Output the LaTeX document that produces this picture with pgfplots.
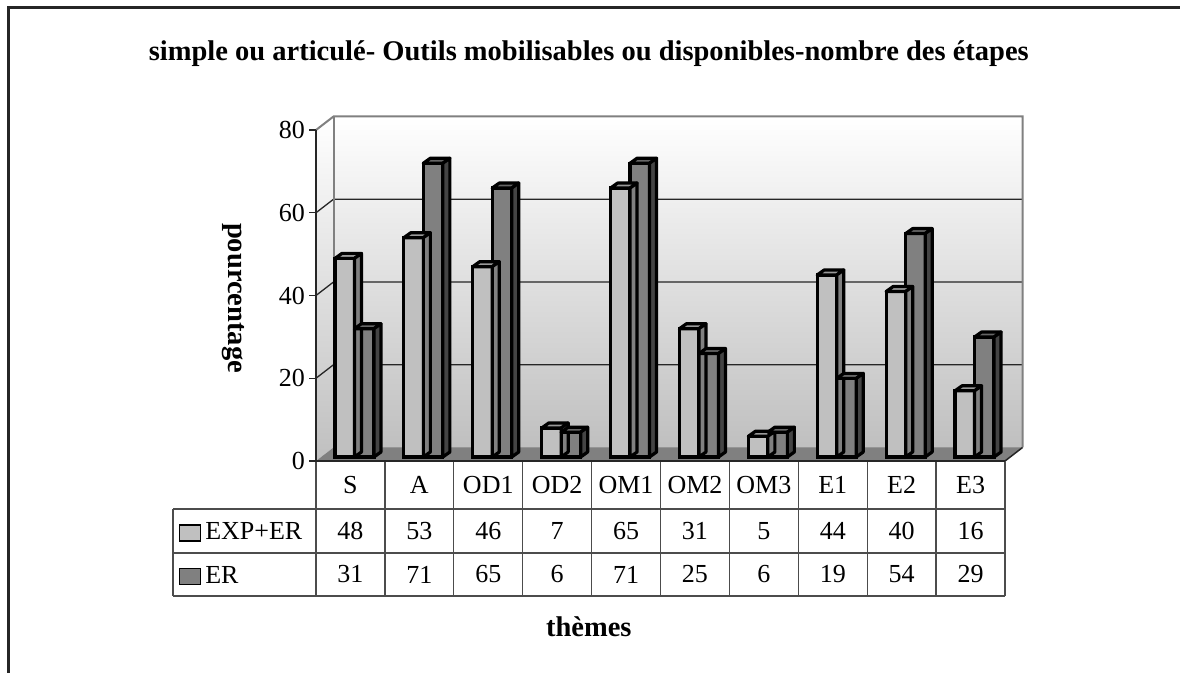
\documentclass[border=0pt]{standalone}
\usepackage{fontspec}
\setmainfont{Liberation Serif}
\usepackage{pgfplots}
\usepackage{pgfplotstable}
\pgfplotsset{compat=1.18}

\definecolor{lightfront}{HTML}{C0C0C0}
\definecolor{lighttop}{HTML}{999999}
\definecolor{lightside}{HTML}{808080}
\definecolor{darkfront}{HTML}{808080}
\definecolor{darktop}{HTML}{666666}
\definecolor{darkside}{HTML}{444444}
\definecolor{wallline}{HTML}{808080}
\definecolor{floorgray}{HTML}{808080}

\pgfdeclareplotmark{nothing}{}

\pgfplotstableread{
x cat exp er
0 S   48 31
1 A   53 71
2 OD1 46 65
3 OD2 7  6
4 OM1 65 71
5 OM2 31 25
6 OM3 5  6
7 E1  44 19
8 E2  40 54
9 E3  16 29
}\themes

\newcommand\tabfont{\fontsize{26bp}{30bp}\selectfont}
\newcommand\labfont{\fontsize{28.5bp}{32bp}\selectfont\bfseries}

% top and right faces of a bar, front face from #1 to #2 (bp from the category centre)
\newcommand\barfaces[4]{%
  \pgfmathsetlengthmacro\hh{\ry*4.1375bp}%
  \pgfmathsetlengthmacro\ww{(#2-#1)*1bp}%
  \filldraw[fill=#3, draw=black, line width=3.2bp, line join=round]
    (#1bp,4bp) -- ++(\ww,0pt) -- ++(7bp,5bp) -- ++(-\ww,0pt) -- cycle;
  \filldraw[fill=#4, draw=black, line width=3.2bp, line join=round]
    (#2bp,4bp) -- ++(7bp,5bp) -- ++(0pt,-\hh) -- ++(-7bp,-5bp) -- cycle;
}

\begin{document}
\begin{tikzpicture}
\path[use as bounding box] (0,0) rectangle (1180bp,673bp);
\draw[line width=2.5bp, black!85] (8.5bp,0) -- (8.5bp,665.5bp) -- (1180bp,665.5bp);
\begin{axis}[
  at={(316bp,212bp)}, anchor=south west,
  x=68.9bp, y=4.1375bp,
  xmin=-0.5, xmax=9.5, ymin=0, ymax=80,
  clip=false, axis on top,
  axis lines*=left,
  axis line style={black!85, line width=1.5bp},
  xtick=\empty,
  ytick={0,20,40,60,80},
  tick align=outside, major tick length=7bp,
  tick style={black!85, line width=1.3bp},
  tick label style={font=\tabfont},
  yticklabel={\pgfmathprintnumber[assume math mode=true]{\tick}},
  yticklabel style={font=\tabfont, inner sep=4bp},
  title={simple ou articulé- Outils mobilisables ou disponibles-nombre des étapes},
  xlabel={thèmes},
  ylabel={pourcentage},
  every axis title/.style={at={(axis description cs:0.396,1.23)}, anchor=center, font=\labfont},
  every axis x label/.style={at={(axis description cs:0.396,-0.5015)}, anchor=center, font=\labfont},
  every axis y label/.style={at={(axis description cs:-0.1205,0.4924)}, anchor=center, rotate=-90, font=\labfont},
]
% side wall and back wall
\shade[top color=white, bottom color=black!25]
  (axis cs:-0.5,80) -- ([xshift=17.5bp,yshift=13.5bp]axis cs:-0.5,80)
  -- ([xshift=17.5bp,yshift=13.5bp]axis cs:-0.5,0) -- (axis cs:-0.5,0) -- cycle;
\shade[top color=white, bottom color=black!25]
  ([xshift=17.5bp,yshift=13.5bp]axis cs:-0.5,0) rectangle ([xshift=17.5bp,yshift=13.5bp]axis cs:9.5,80);
% grid lines
\pgfplotsinvokeforeach{20,40,60}{
  \draw[black!85, line width=1.3bp] (axis cs:-0.5,#1) -- ([xshift=17.5bp,yshift=13.5bp]axis cs:-0.5,#1)
    -- ([xshift=17.5bp,yshift=13.5bp]axis cs:9.5,#1);
}
\draw[wallline, line width=2bp] (axis cs:-0.5,80) -- ([xshift=17.5bp,yshift=13.5bp]axis cs:-0.5,80)
  -- ([xshift=17.5bp,yshift=13.5bp]axis cs:9.5,80) -- ([xshift=17.5bp,yshift=13.5bp]axis cs:9.5,0);
\draw[wallline, line width=2bp] ([xshift=17.5bp,yshift=13.5bp]axis cs:-0.5,80)
  -- ([xshift=17.5bp,yshift=13.5bp]axis cs:-0.5,0);
% floor
\fill[floorgray] (axis cs:-0.5,0) -- (axis cs:9.5,0)
  -- ([xshift=17.5bp,yshift=13.5bp]axis cs:9.5,0) -- ([xshift=17.5bp,yshift=13.5bp]axis cs:-0.5,0) -- cycle;
\draw[black!85, line width=1.5bp] (axis cs:9.5,0) -- ([xshift=17.5bp,yshift=13.5bp]axis cs:9.5,0);

% bars
\addplot[ybar, bar width=19.5bp, bar shift=-5.75bp, yshift=4bp,
  fill=lightfront, draw=black, line width=3.2bp] table[x=x, y=exp] {\themes};
\addplot[only marks, mark=nothing, scatter, point meta=y,
  visualization depends on={rawy \as \ry},
  scatter/@pre marker code/.code={\barfaces{-15.5}{4}{lighttop}{lightside}},
  scatter/@post marker code/.code={}] table[x=x, y=exp] {\themes};
\addplot[ybar, bar width=19.5bp, bar shift=13.75bp, yshift=4bp,
  fill=darkfront, draw=black, line width=3.2bp] table[x=x, y=er] {\themes};
\addplot[only marks, mark=nothing, scatter, point meta=y,
  visualization depends on={rawy \as \ry},
  scatter/@pre marker code/.code={\barfaces{4}{23.5}{darktop}{darkside}},
  scatter/@post marker code/.code={}] table[x=x, y=er] {\themes};

% data table
\draw[black!85, line width=1.5bp] (axis cs:-0.5,0) -- (axis cs:9.5,0);
\pgfplotsinvokeforeach{-0.5,0.5,1.5,2.5,3.5,4.5,5.5,6.5,7.5,8.5,9.5}{
  \draw[black!70, line width=1.3bp] (axis cs:#1,0) -- (axis cs:#1,-32.63);
}
\draw[black!70, line width=1.3bp] (axis cs:-2.575,-11.60) -- (axis cs:-2.575,-32.63);
\pgfplotsinvokeforeach{-11.60,-22.24,-32.63}{
  \draw[black!70, line width=1.3bp] (axis cs:-2.575,#1) -- (axis cs:9.5,#1);
}
\filldraw[fill=lightfront, draw=black, line width=1.8bp]
  ([xshift=-10.5bp,yshift=-8bp]axis cs:-2.33,-17.4) rectangle ([xshift=10.5bp,yshift=8bp]axis cs:-2.33,-17.4);
\filldraw[fill=darkfront, draw=black, line width=1.8bp]
  ([xshift=-10.5bp,yshift=-8bp]axis cs:-2.33,-27.9) rectangle ([xshift=10.5bp,yshift=8bp]axis cs:-2.33,-27.9);
\node[anchor=west, inner sep=0pt, font=\tabfont] at (axis cs:-2.11,-16.92) {EXP+ER};
\node[anchor=west, inner sep=0pt, font=\tabfont] at (axis cs:-2.11,-27.43) {ER};

\addplot[draw=none, point meta=explicit symbolic, nodes near coords={\pgfplotspointmeta},
  nodes near coords style={anchor=center, font=\tabfont, inner sep=0pt}]
  table[x=x, y expr=-5.80, meta=cat] {\themes};
\addplot[draw=none, point meta=explicit symbolic, nodes near coords={\pgfplotspointmeta},
  nodes near coords style={anchor=center, font=\tabfont, inner sep=0pt}]
  table[x=x, y expr=-16.92, meta=exp] {\themes};
\addplot[draw=none, point meta=explicit symbolic, nodes near coords={\pgfplotspointmeta},
  nodes near coords style={anchor=center, font=\tabfont, inner sep=0pt}]
  table[x=x, y expr=-27.43, meta=er] {\themes};
\end{axis}
\end{tikzpicture}
\end{document}
